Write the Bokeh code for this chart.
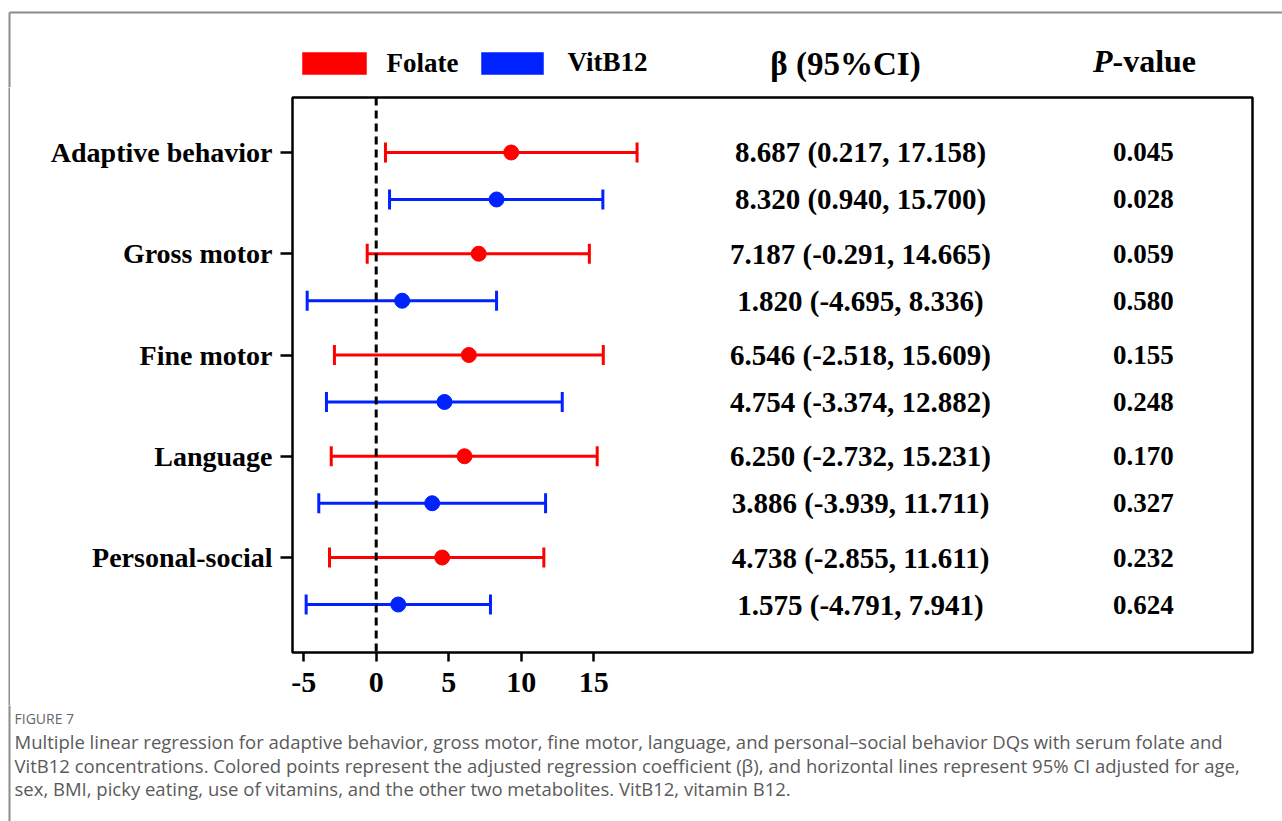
import math
from bokeh.plotting import figure
from bokeh.layouts import column, row
from bokeh.models import Range1d, FixedTicker, Span, Spacer
from bokeh.core.properties import value
from bokeh.embed import file_html
from bokeh.resources import INLINE

# ---------------- data ----------------
categories = ["Adaptive behavior", "Gross motor", "Fine motor", "Language", "Personal-social"]

folate_est = [9.31, 7.07, 6.39, 6.09, 4.55]
folate_lo = [0.64, -0.62, -2.88, -3.10, -3.22]
folate_hi = [17.99, 14.70, 15.66, 15.24, 11.56]

vit_est = [8.30, 1.79, 4.71, 3.86, 1.52]
vit_lo = [0.92, -4.76, -3.43, -3.96, -4.83]
vit_hi = [15.63, 8.30, 12.83, 11.68, 7.88]

folate_ci_text = ["8.687 (0.217, 17.158)", "7.187 (-0.291, 14.665)", "6.546 (-2.518, 15.609)",
                  "6.250 (-2.732, 15.231)", "4.738 (-2.855, 11.611)"]
vit_ci_text = ["8.320 (0.940, 15.700)", "1.820 (-4.695, 8.336)", "4.754 (-3.374, 12.882)",
               "3.886 (-3.939, 11.711)", "1.575 (-4.791, 7.941)"]
folate_p = ["0.045", "0.059", "0.155", "0.170", "0.232"]
vit_p = ["0.028", "0.580", "0.248", "0.327", "0.624"]

x_ticks = [-5, 0, 5, 10, 15]
x_tick_labels = ["-5", "0", "5", "10", "15"]

series_names = ["Folate", "VitB12"]
header_beta = "\u03b2 (95%CI)"
header_p = ("P", "-value")

caption_title = "FIGURE 7"
caption_lines = [
    "Multiple linear regression for adaptive behavior, gross motor, fine motor, language, and personal\u2013social behavior DQs with serum folate and",
    "VitB12 concentrations. Colored points represent the adjusted regression coefficient (\u03b2), and horizontal lines represent 95% CI adjusted for age,",
    "sex, BMI, picky eating, use of vitamins, and the other two metabolites. VitB12, vitamin B12.",
]

# ---------------- style / layout ----------------
W, H = 1282, 821
TOP_H = 87          # band above the main figure
MAIN_H = 618        # main figure height (frame 555 + borders)
BOT_H = H - TOP_H - MAIN_H
STRIP_W = 32
MAIN_W = W - STRIP_W
RED = "#ff0000"
BLUE = "#0022ff"
GREY = "#8c8c8c"
SERIF = "Liberation Serif"
SANS = "Open Sans"
FRAME_X = 9         # centre of the outer frame's left line
FRAME_Y = 12        # outer frame's top line
FRAME_LW = 2


def blank(width, height, fill="white"):
    f = figure(width=width, height=height, output_backend="svg", toolbar_location=None,
               x_range=Range1d(0, width), y_range=Range1d(height, 0),
               x_axis_location=None, y_axis_location=None, min_border=0)
    f.grid.visible = False
    f.outline_line_color = None
    f.background_fill_color = fill
    f.border_fill_color = fill
    f.frame_align = False
    return f


# ---- top band: legend + column headers ----
top = blank(W, TOP_H)
top.segment(x0=[FRAME_X, FRAME_X], y0=[FRAME_Y, FRAME_Y], x1=[W + 5, FRAME_X], y1=[FRAME_Y, TOP_H + 5],
            line_color=GREY, line_width=FRAME_LW)
top.quad(left=[302, 481], right=[366, 543], top=[52, 52], bottom=[74, 74],
         fill_color=[RED, BLUE], line_color=[RED, BLUE], line_alpha=0.5)
top.text(x=[386, 567], y=[62, 61], text=series_names, text_align="left", text_baseline="middle",
         text_font=value(SERIF), text_font_style="bold", text_font_size="27px", text_color="black")
top.text(x=[845], y=[63], text=[header_beta], text_align="center", text_baseline="middle",
         text_font=value(SERIF), text_font_style="bold", text_font_size="33px", text_color="black")
top.text(x=[1112], y=[60], text=[header_p[0]], text_align="right", text_baseline="middle",
         text_font=value(SERIF), text_font_style="bold italic", text_font_size="32px", text_color="black")
top.text(x=[1112], y=[60], text=[header_p[1]], text_align="left", text_baseline="middle",
         text_font=value(SERIF), text_font_style="bold", text_font_size="32px", text_color="black")

# ---- left strip carrying the outer frame line (a thin all-grey figure) ----
left_gap = FRAME_X - FRAME_LW // 2
frame_line = blank(FRAME_LW, MAIN_H, fill=GREY)
strip = row(Spacer(width=left_gap, height=MAIN_H), frame_line,
            Spacer(width=STRIP_W - left_gap - FRAME_LW, height=MAIN_H), spacing=0)

# ---- main forest plot ----
n = len(categories)
folate_y = [n - i for i in range(n)]
vit_y = [y - 0.464 for y in folate_y]

p = figure(width=MAIN_W, height=MAIN_H, output_backend="svg", toolbar_location=None,
           x_range=Range1d(-5.772, 60.43), y_range=Range1d(0.062, 5.543),
           min_border_left=260, min_border_right=30, min_border_top=10, min_border_bottom=53)
p.grid.visible = False
p.outline_line_color = "black"
p.outline_line_width = 2.5
p.background_fill_color = "white"
p.border_fill_color = "white"

p.xaxis.ticker = FixedTicker(ticks=x_ticks)
p.xaxis.major_label_overrides = {t: s for t, s in zip(x_ticks, x_tick_labels)}
p.yaxis.ticker = FixedTicker(ticks=folate_y)
p.yaxis.major_label_overrides = {y: c for y, c in zip(folate_y, categories)}
for ax in (p.xaxis[0], p.yaxis[0]):
    ax.axis_line_color = None
    ax.major_tick_line_color = "black"
    ax.major_tick_line_width = 2.5
    ax.minor_tick_line_color = None
    ax.major_tick_in = 0
    ax.major_label_text_font = SERIF
    ax.major_label_text_font_style = "bold"
    ax.major_label_text_color = "black"
p.xaxis.major_tick_out = 9
p.xaxis.major_label_text_font_size = "30px"
p.xaxis.major_label_standoff = 11
p.yaxis.major_tick_out = 12
p.yaxis.major_label_text_font_size = "28px"
p.yaxis.major_label_standoff = 8

p.add_layout(Span(location=0, dimension="height", line_color="black",
                  line_width=3, line_dash="8 5"))

for ys, lo, hi, est, col in ((folate_y, folate_lo, folate_hi, folate_est, RED),
                             (vit_y, vit_lo, vit_hi, vit_est, BLUE)):
    p.segment(x0=lo, y0=ys, x1=hi, y1=ys, line_color=col, line_width=3)
    p.scatter(x=lo + hi, y=ys + ys, marker="dash", angle=math.pi / 2, size=20,
              line_color=col, line_width=3)
    p.scatter(x=est, y=ys, marker="circle", size=15, fill_color=col, line_color=col)

BETA_X = 33.4
P_X = 52.9
for ys, txt, pv in ((folate_y, folate_ci_text, folate_p), (vit_y, vit_ci_text, vit_p)):
    p.text(x=[BETA_X] * n, y=ys, text=txt, text_align="center", text_baseline="middle",
           text_font=value(SERIF), text_font_style="bold", text_font_size="29px",
           text_color="black")
    p.text(x=[P_X] * n, y=ys, text=pv, text_align="center", text_baseline="middle",
           text_font=value(SERIF), text_font_style="bold", text_font_size="27px",
           text_color="black")

# ---- bottom band: caption ----
bot = blank(W, BOT_H)
bot.segment(x0=[FRAME_X], y0=[-5], x1=[FRAME_X], y1=[BOT_H + 5], line_color=GREY, line_width=FRAME_LW)
bot.text(x=[14], y=[718 - TOP_H - MAIN_H], text=[caption_title], text_align="left",
         text_baseline="middle", text_font=value(SANS), text_font_size="14px", text_color="#666666")
bot.text(x=[14] * len(caption_lines),
         y=[741 - TOP_H - MAIN_H + 23.5 * i for i in range(len(caption_lines))],
         text=caption_lines, text_align="left", text_baseline="middle",
         text_font=value(SANS), text_font_size="18.5px", text_color="#5a5a5a")

layout = column(top, row(strip, p, spacing=0), bot, spacing=0)
open("out.html", "w").write(file_html(layout, INLINE))
